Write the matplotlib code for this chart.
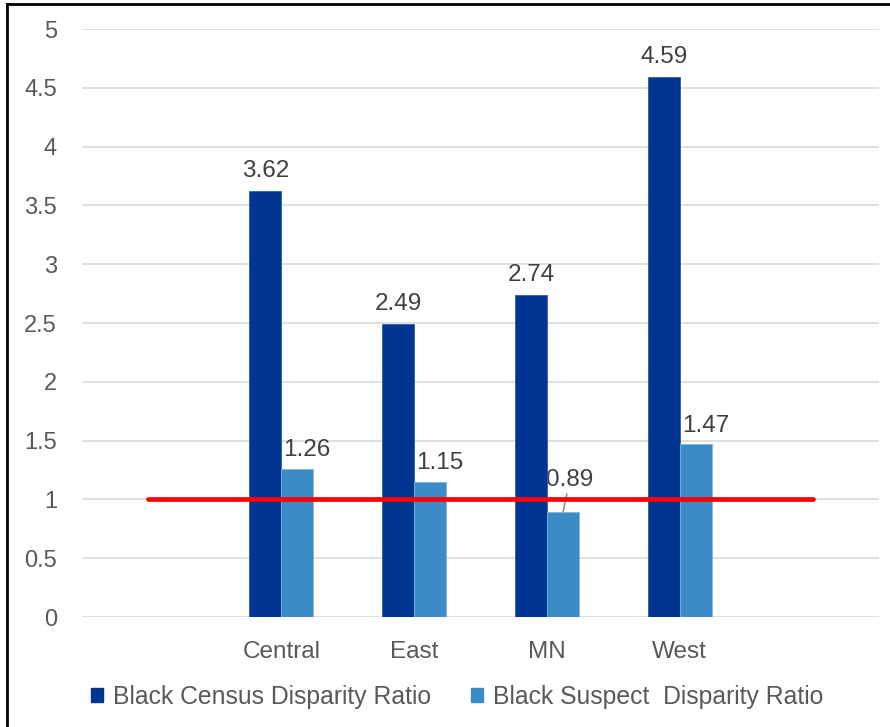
import numpy as np
import matplotlib
matplotlib.use("Agg")
import matplotlib.pyplot as plt
from matplotlib.lines import Line2D
from matplotlib.patches import Patch

# category slots (Excel chart has a blank slot at each end)
categories = ["", "Central", "East", "MN", "West", ""]
regions = ["Central", "East", "MN", "West"]
census_ratio = [3.62, 2.49, 2.74, 4.59]
suspect_ratio = [1.26, 1.15, 0.89, 1.47]
reference_line = [1, 1, 1, 1, 1, 1]
y_ticks = [0, 0.5, 1, 1.5, 2, 2.5, 3, 3.5, 4, 4.5, 5]
y_ticklabels = ["0", "0.5", "1", "1.5", "2", "2.5", "3", "3.5", "4", "4.5", "5"]

DARK = "#003591"
LIGHT = "#3b8cc6"
TEXT = "#595959"
LABEL = "#404040"

plt.rcParams["font.family"] = ["Liberation Sans", "DejaVu Sans"]

fig = plt.figure(figsize=(8.9, 7.27), dpi=100)
ax = fig.add_axes([82 / 890, 110 / 727, 797 / 890, 588 / 727])

xpos = np.arange(len(categories))
bar_x = np.array([categories.index(r) for r in regions])
w = 0.241

ax.bar(bar_x - w / 2, census_ratio, w, color=DARK, zorder=3,
       edgecolor="#2f5fae", linewidth=0.6)
ax.bar(bar_x + w / 2, suspect_ratio, w, color=LIGHT, zorder=3,
       edgecolor="#7fb6e0", linewidth=0.6)
ax.plot(xpos, reference_line, color="#ff0000", lw=3.4, solid_capstyle="round", zorder=4)

# data labels
for x, v in zip(bar_x - w / 2, census_ratio):
    ax.annotate(f"{v:.2f}", (x, v), xytext=(0, 10), textcoords="offset points",
                ha="center", va="baseline", fontsize=17.5, color=LABEL, zorder=2)
for x, v in zip(bar_x + w / 2, suspect_ratio):
    if v < 1:
        # dragged label with leader line
        ax.annotate(f"{v:.2f}", (x, v), xytext=(5, 19), textcoords="offset points",
                    ha="center", va="baseline", fontsize=17.5, color=LABEL, zorder=2,
                    arrowprops=dict(arrowstyle="-", color="#8c8c8c", lw=1.1,
                                    shrinkA=0, shrinkB=0))
    else:
        ax.annotate(f"{v:.2f}", (x, v), xytext=(7, 9), textcoords="offset points",
                    ha="center", va="baseline", fontsize=17.5, color=LABEL, zorder=2)

ax.set_xlim(-0.5, len(categories) - 0.5)
ax.set_ylim(0, 5)
ax.set_yticks(y_ticks)
ax.set_yticklabels(y_ticklabels)
ax.set_xticks(xpos)
ax.set_xticklabels(categories)
ax.tick_params(axis="y", length=0, pad=18, labelsize=17, labelcolor=TEXT)
ax.tick_params(axis="x", length=0, pad=17, labelsize=17.5, labelcolor=TEXT)
ax.grid(axis="y", color="#d9d9d9", lw=1.2, zorder=0)
ax.set_axisbelow(True)
for s in ax.spines.values():
    s.set_visible(False)

handles = [Patch(color=DARK, label="Black Census Disparity Ratio"),
           Patch(color=LIGHT, label="Black Suspect  Disparity Ratio")]
fig.legend(handles=handles, loc="center", bbox_to_anchor=(457 / 890, 30 / 727),
           ncol=2, frameon=False, fontsize=17.8, labelcolor=TEXT,
           handlelength=0.5, handleheight=0.5, handletextpad=0.4, columnspacing=1.6)

# frame edges visible in the screenshot
fig.add_artist(Line2D([7 / 890, 7 / 890], [0, 1 - 4 / 727], color="black", lw=2))
fig.add_artist(Line2D([7 / 890, 1], [1 - 4 / 727, 1 - 4 / 727], color="black", lw=2))

fig.savefig("out.png", dpi=100)
